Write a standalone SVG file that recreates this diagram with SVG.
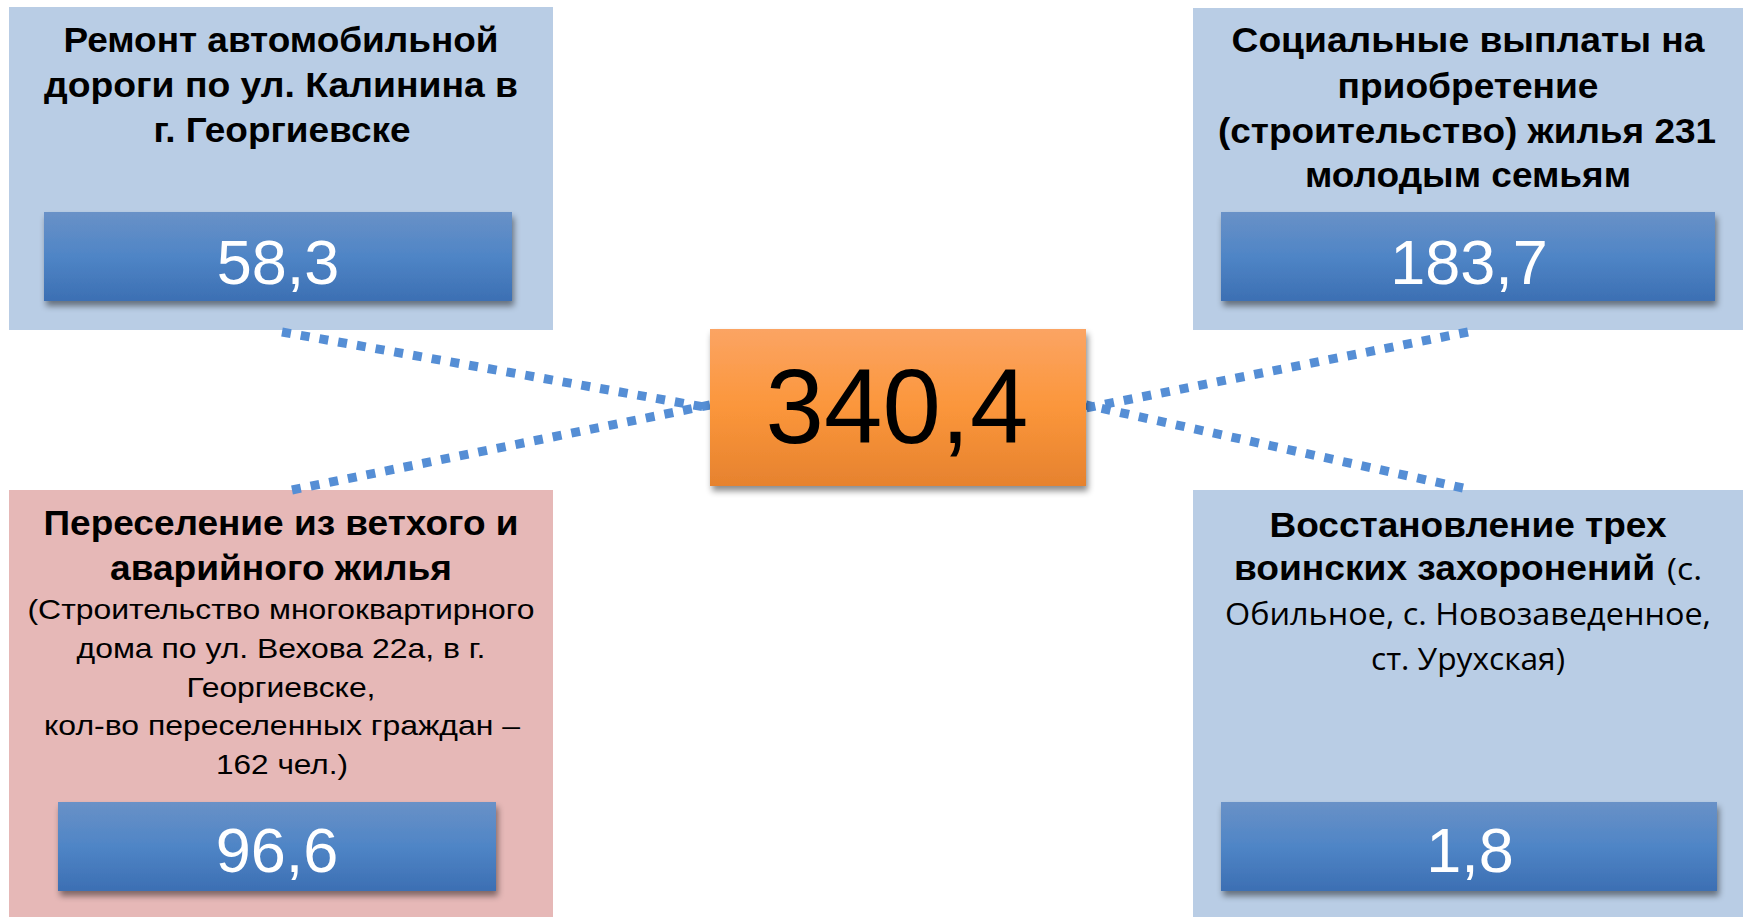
<svg xmlns="http://www.w3.org/2000/svg" width="1744" height="917" viewBox="0 0 1744 917">
<defs>
<linearGradient id="gBlue" x1="0" y1="0" x2="0" y2="1">
<stop offset="0" stop-color="#6991c7"/>
<stop offset="0.5" stop-color="#4f85c6"/>
<stop offset="1" stop-color="#3c6fb3"/>
</linearGradient>
<linearGradient id="gOrange" x1="0" y1="0" x2="0" y2="1">
<stop offset="0" stop-color="#fba463"/>
<stop offset="0.5" stop-color="#fb963b"/>
<stop offset="1" stop-color="#e6822e"/>
</linearGradient>
<filter id="sh" x="-10%" y="-20%" width="120%" height="150%">
<feDropShadow dx="2" dy="5" stdDeviation="3" flood-color="#000" flood-opacity="0.45"/>
</filter>
</defs>
<style>
.bg{fill:#b9cde5}
.pink{fill:#e6b8b7}
.bar{fill:url(#gBlue);filter:url(#sh)}
.t{font-family:"Liberation Sans",Arial,sans-serif;font-weight:bold;font-size:35px;fill:#000;text-anchor:middle}
.r{font-family:"Liberation Sans",Arial,sans-serif;font-size:28px;fill:#000;text-anchor:middle}
.c{font-family:"Open Sans","Noto Sans",sans-serif;font-size:31px;fill:#000}
.v{font-family:"Liberation Sans",Arial,sans-serif;font-size:63px;fill:#fff;text-anchor:middle}
.dot{stroke:#558ed5;stroke-width:9;stroke-dasharray:9 10;fill:none}
</style>
<g id="node-road">
<rect class="bg" x="9" y="7" width="544" height="323"/>
<text class="t" x="281" y="52" textLength="435" lengthAdjust="spacingAndGlyphs">Ремонт автомобильной</text>
<text class="t" x="281" y="97" textLength="474" lengthAdjust="spacingAndGlyphs">дороги по ул. Калинина в</text>
<text class="t" x="282" y="142" textLength="257" lengthAdjust="spacingAndGlyphs">г. Георгиевске</text>
<rect class="bar" x="44" y="212" width="468" height="89"/>
<text class="v" x="278" y="284">58,3</text>
</g>
<g id="node-social">
<rect class="bg" x="1193" y="8" width="550" height="322"/>
<text class="t" x="1468" y="52" textLength="473" lengthAdjust="spacingAndGlyphs">Социальные выплаты на</text>
<text class="t" x="1468" y="98" textLength="261" lengthAdjust="spacingAndGlyphs">приобретение</text>
<text class="t" x="1467" y="143" textLength="498" lengthAdjust="spacingAndGlyphs">(строительство) жилья 231</text>
<text class="t" x="1468" y="187" textLength="326" lengthAdjust="spacingAndGlyphs">молодым семьям</text>
<rect class="bar" x="1221" y="212" width="494" height="89"/>
<text class="v" x="1469" y="284">183,7</text>
</g>
<g id="node-resettle">
<rect class="pink" x="9" y="490" width="544" height="427"/>
<text class="t" x="281" y="535" textLength="475" lengthAdjust="spacingAndGlyphs">Переселение из ветхого и</text>
<text class="t" x="281" y="580" textLength="342" lengthAdjust="spacingAndGlyphs">аварийного жилья</text>
<text class="r" x="281" y="619" textLength="507" lengthAdjust="spacingAndGlyphs">(Строительство многоквартирного</text>
<text class="r" x="281" y="658" textLength="409" lengthAdjust="spacingAndGlyphs">дома по ул. Вехова 22а, в г.</text>
<text class="r" x="281" y="697" textLength="189" lengthAdjust="spacingAndGlyphs">Георгиевске,</text>
<text class="r" x="282" y="735" textLength="476" lengthAdjust="spacingAndGlyphs">кол-во переселенных граждан –</text>
<text class="r" x="282" y="774" textLength="132" lengthAdjust="spacingAndGlyphs">162 чел.)</text>
<rect class="bar" x="58" y="802" width="438" height="89"/>
<text class="v" x="277" y="872">96,6</text>
</g>
<g id="node-memorial">
<rect class="bg" x="1193" y="490" width="550" height="427"/>
<text class="t" x="1468" y="537" textLength="397" lengthAdjust="spacingAndGlyphs">Восстановление трех</text>
<text class="t" x="1234" y="580" style="text-anchor:start" textLength="421" lengthAdjust="spacingAndGlyphs">воинских захоронений</text>
<text class="c" x="1667" y="580" textLength="35" lengthAdjust="spacingAndGlyphs">(с.</text>
<text class="c" x="1468" y="625" text-anchor="middle" textLength="486" lengthAdjust="spacingAndGlyphs">Обильное, с. Новозаведенное,</text>
<text class="c" x="1468" y="670" text-anchor="middle" textLength="194" lengthAdjust="spacingAndGlyphs">ст. Урухская)</text>
<rect class="bar" x="1221" y="802" width="496" height="89"/>
<text class="v" x="1470" y="872">1,8</text>
</g>
<g id="connectors">
<line class="dot" x1="282" y1="332" x2="710" y2="408"/>
<line class="dot" x1="292" y1="490" x2="710" y2="405"/>
<line class="dot" x1="1468" y1="332" x2="1086" y2="408"/>
<line class="dot" x1="1463" y1="488" x2="1086" y2="405"/>
</g>
<g id="node-total">
<rect x="710" y="329" width="376" height="157" fill="url(#gOrange)" filter="url(#sh)"/>
<text x="897" y="443" font-family="Liberation Sans,Arial,sans-serif" font-size="105" text-anchor="middle" fill="#000">340,4</text>
</g>
</svg>
